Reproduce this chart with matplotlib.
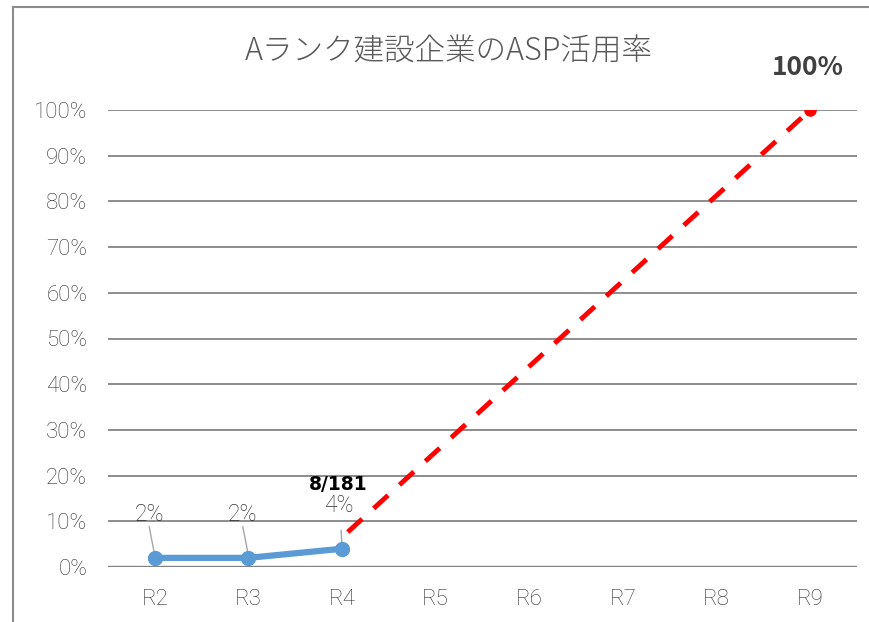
import numpy as np
import matplotlib.pyplot as plt
from matplotlib.lines import Line2D

plt.rcParams['font.family'] = ['Noto Sans CJK JP', 'DejaVu Sans']

categories = ["R2", "R3", "R4", "R5", "R6", "R7", "R8", "R9"]
actual = [2, 2, 4]                 # R2-R4 results (%)
actual_labels = ["2%", "2%", "4%"]
target_x = ["R4", "R9"]
target = [6.5, 100]                # red dashed target line (%)
yticks = list(range(0, 101, 10))

thin = dict(family=["Roboto", "DejaVu Sans"], fontweight="light")
txt_col = "#333333"

fig = plt.figure(figsize=(8.7, 6.22), dpi=100)
ax = fig.add_axes([108 / 870, 1 - 567 / 622, (857 - 108) / 870, (567 - 110) / 622])

xpos = {c: i for i, c in enumerate(categories)}

for y in yticks:
    ax.axhline(y, color="#8c8c8c" if y else "#808080", lw=1.4 if y else 2.4, zorder=0)

# target line (red dashed)
tx = [xpos[c] for c in target_x]
ax.plot(tx, target, color="#ff0000", lw=3.5, linestyle=(5.6, (4, 3.2)),
        dash_capstyle="butt", zorder=3)
ax.plot(tx[-1], target[-1], "o", color="#ff0000", ms=8, zorder=4)

# actual results (blue)
ax.plot(range(len(actual)), actual, color="#5b9bd5", lw=4.5, marker="o", ms=10,
        solid_capstyle="round", zorder=5)

# data labels with leader lines
for i, (v, lab) in enumerate(zip(actual, actual_labels)):
    top = v + 6.8 if i < 2 else v + 4.0
    ax.add_line(Line2D([i - 0.06 if i < 2 else i - 0.01, i], [top, v + 0.5],
                       color="#a6a6a6", lw=1, zorder=4))
    ax.text(i - 0.06 if i < 2 else i - 0.03, v + 9.5, lab,
            ha="center", va="center", fontsize=16.5, color=txt_col, **thin)
ax.text(2 - 0.04, 18, "8/181", ha="center", va="center", fontsize=13.5,
        fontweight="bold", color="black", family=["DejaVu Sans"])
ax.add_line(Line2D([xpos["R9"] - 0.02, xpos["R9"]], [103.3, 100.3], color="#a6a6a6", lw=1, zorder=4))
ax.text(xpos["R9"] - 0.02, 109.2, "100%", ha="center", va="center", fontsize=19,
        fontweight="bold", color="#404040", clip_on=False)

ax.set_xlim(-0.5, len(categories) - 0.5)
ax.set_ylim(0, 100)
ax.set_xticks(range(len(categories)))
ax.set_xticklabels(categories, **thin)
ax.set_yticks(yticks)
ax.set_yticklabels([f"{y}%" for y in yticks], **thin)
ax.tick_params(length=0, labelsize=16, labelcolor=txt_col)
ax.tick_params(axis="y", pad=15)
ax.tick_params(axis="x", pad=16)
for s in ax.spines.values():
    s.set_visible(False)

fig.text(449 / 870, 1 - 52 / 622, "Aランク建設企業のASP活用率", ha="center", va="center",
         fontsize=22, color="#595959", fontweight="light")

# chart area border (left and top edges visible)
fig.add_artist(Line2D([13 / 870, 13 / 870], [0, 1 - 7 / 622], color="#8c8c8c", lw=1.5))
fig.add_artist(Line2D([13 / 870, 1], [1 - 7 / 622, 1 - 7 / 622], color="#8c8c8c", lw=1.5))

fig.savefig("out.png", dpi=100)
